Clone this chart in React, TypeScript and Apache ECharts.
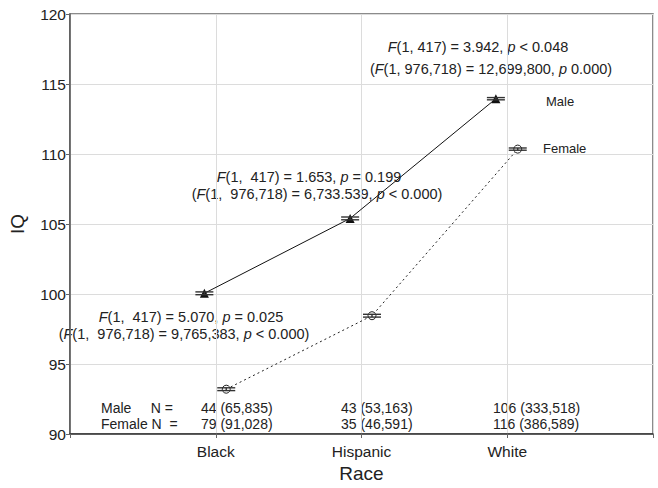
import React, { useEffect, useRef } from "react";
import * as echarts from "echarts";

const categories = ["Black", "Hispanic", "White"];
const maleMeans = [100.05, 105.4, 113.95];
const femaleMeans = [93.2, 98.45, 110.35];
const maleSE = [0.1, 0.1, 0.08];
const femaleSE = [0.1, 0.1, 0.08];
const maleN = ["44 (65,835)", "43 (53,163)", "106 (333,518)"];
const femaleN = ["79 (91,028)", "35 (46,591)", "116 (386,589)"];
const yTicks = [90, 95, 100, 105, 110, 115, 120];

const FONT = "Liberation Sans, Arial, Helvetica, sans-serif";
const MALE_OFF = -0.078;
const FEMALE_OFF = 0.072;

function richStyle(size: number) {
  return {
    i: { fontStyle: "italic", fontSize: size, fontFamily: FONT, fill: "#222" },
    n: { fontSize: size, fontFamily: FONT, fill: "#222" },
  };
}

function ann(text: string, x: number, y: number, size = 14.5, align = "center") {
  return {
    type: "text",
    x,
    y,
    silent: true,
    style: {
      text,
      rich: richStyle(size),
      fontSize: size,
      fontFamily: FONT,
      fill: "#222",
      textAlign: align,
      textVerticalAlign: "middle",
    },
  };
}

export default function App() {
  const ref = useRef<HTMLDivElement>(null);
  useEffect(() => {
    if (!ref.current) return;
    const chart = echarts.init(ref.current, undefined, { renderer: "svg" });
    const maleData = maleMeans.map((v, i) => [i + 1 + MALE_OFF, v]);
    const femaleData = femaleMeans.map((v, i) => [i + 1 + FEMALE_OFF, v]);
    const errData = [
      ...maleMeans.map((v, i) => [i + 1 + MALE_OFF, v - maleSE[i], v + maleSE[i]]),
      ...femaleMeans.map((v, i) => [i + 1 + FEMALE_OFF, v - femaleSE[i], v + femaleSE[i]]),
    ];
    const graphics: any[] = [
      ann("{i|F}{n|(1, 417) = 3.942, }{i|p}{n| < 0.048}", 478, 47),
      ann("{n|(}{i|F}{n|(1, 976,718) = 12,699,800, }{i|p}{n| 0.000)}", 491, 69),
      ann("{i|F}{n|(1,  417) = 1.653, }{i|p}{n| = 0.199}", 309, 177),
      ann("{n|(}{i|F}{n|(1,  976,718) = 6,733.539, }{i|p}{n| < 0.000)}", 317, 194),
      ann("{i|F}{n|(1,  417) = 5.070, }{i|p}{n| = 0.025}", 191, 317),
      ann("{n|(}{i|F}{n|(1,  976,718) = 9,765,383, }{i|p}{n| < 0.000)}", 184, 334),
      ann("{n|Male}", 546, 101, 13, "left"),
      ann("{n|Female}", 543, 148, 13, "left"),
      ann("{n|Male     N =}", 101, 408, 14, "left"),
      ann("{n|Female N  =}", 101, 424, 14, "left"),
    ];
    const nx = [201, 341, 493];
    maleN.forEach((t, i) => graphics.push(ann("{n|" + t + "}", nx[i], 408, 14, "left")));
    femaleN.forEach((t, i) => graphics.push(ann("{n|" + t + "}", nx[i], 424, 14, "left")));

    chart.setOption({
      animation: false,
      backgroundColor: "#fff",
      grid: {
        left: 66,
        right: 5,
        top: 14,
        bottom: 50,
        show: true,
        borderColor: "#666",
        borderWidth: 1.5,
        backgroundColor: "transparent",
      },
      xAxis: {
        type: "value",
        min: 0,
        max: 4,
        interval: 1,
        name: "Race",
        nameLocation: "middle",
        nameGap: 30,
        nameTextStyle: { fontSize: 19, fontFamily: FONT, color: "#222" },
        axisLine: { show: true, lineStyle: { color: "#333", width: 1.5 } },
        axisTick: { show: true, length: 4, lineStyle: { color: "#666" } },
        axisLabel: {
          fontSize: 15.5,
          fontFamily: FONT,
          color: "#222",
          margin: 9,
          formatter: (v: number) => (v >= 1 && v <= 3 ? categories[v - 1] : ""),
        },
        splitLine: { show: true, lineStyle: { color: "#dcdcdc", width: 1 } },
      },
      yAxis: {
        type: "value",
        min: yTicks[0],
        max: yTicks[yTicks.length - 1],
        interval: 5,
        name: "IQ",
        nameLocation: "middle",
        nameGap: 43,
        nameTextStyle: { fontSize: 19, fontFamily: FONT, color: "#222" },
        axisLine: { show: true, lineStyle: { color: "#555", width: 1.5 } },
        axisTick: { show: true, length: 4, lineStyle: { color: "#666" } },
        axisLabel: { fontSize: 15.5, fontFamily: FONT, color: "#222", margin: 4 },
        splitLine: { show: true, lineStyle: { color: "#dcdcdc", width: 1 } },
      },
      series: [
        {
          name: "Male",
          type: "line",
          data: maleData,
          symbol: "triangle",
          symbolSize: 9,
          itemStyle: { color: "#111" },
          lineStyle: { color: "#111", width: 1 },
          z: 3,
        },
        {
          name: "Female",
          type: "line",
          data: femaleData,
          symbol: "circle",
          symbolSize: 8,
          itemStyle: { color: "#fff", borderColor: "#222", borderWidth: 1 },
          lineStyle: { color: "#222", width: 1, type: [2, 3] },
          z: 3,
        },
        {
          type: "custom",
          data: errData,
          z: 4,
          renderItem: (params: any, api: any) => {
            const x = api.value(0);
            const lo = api.coord([x, api.value(1)]);
            const hi = api.coord([x, api.value(2)]);
            const hw = 9;
            const st = { stroke: "#333", lineWidth: 1.4 };
            return {
              type: "group",
              children: [
                { type: "line", shape: { x1: lo[0] - hw, y1: lo[1], x2: lo[0] + hw, y2: lo[1] }, style: st },
                { type: "line", shape: { x1: hi[0] - hw, y1: hi[1], x2: hi[0] + hw, y2: hi[1] }, style: st },
                { type: "line", shape: { x1: lo[0], y1: lo[1], x2: hi[0], y2: hi[1] }, style: st },
              ],
            };
          },
        },
      ],
      graphic: graphics,
    });
    return () => chart.dispose();
  }, []);
  return <div ref={ref} style={{ width: 658, height: 488, position: "absolute", left: 0, top: 0 }} />;
}
